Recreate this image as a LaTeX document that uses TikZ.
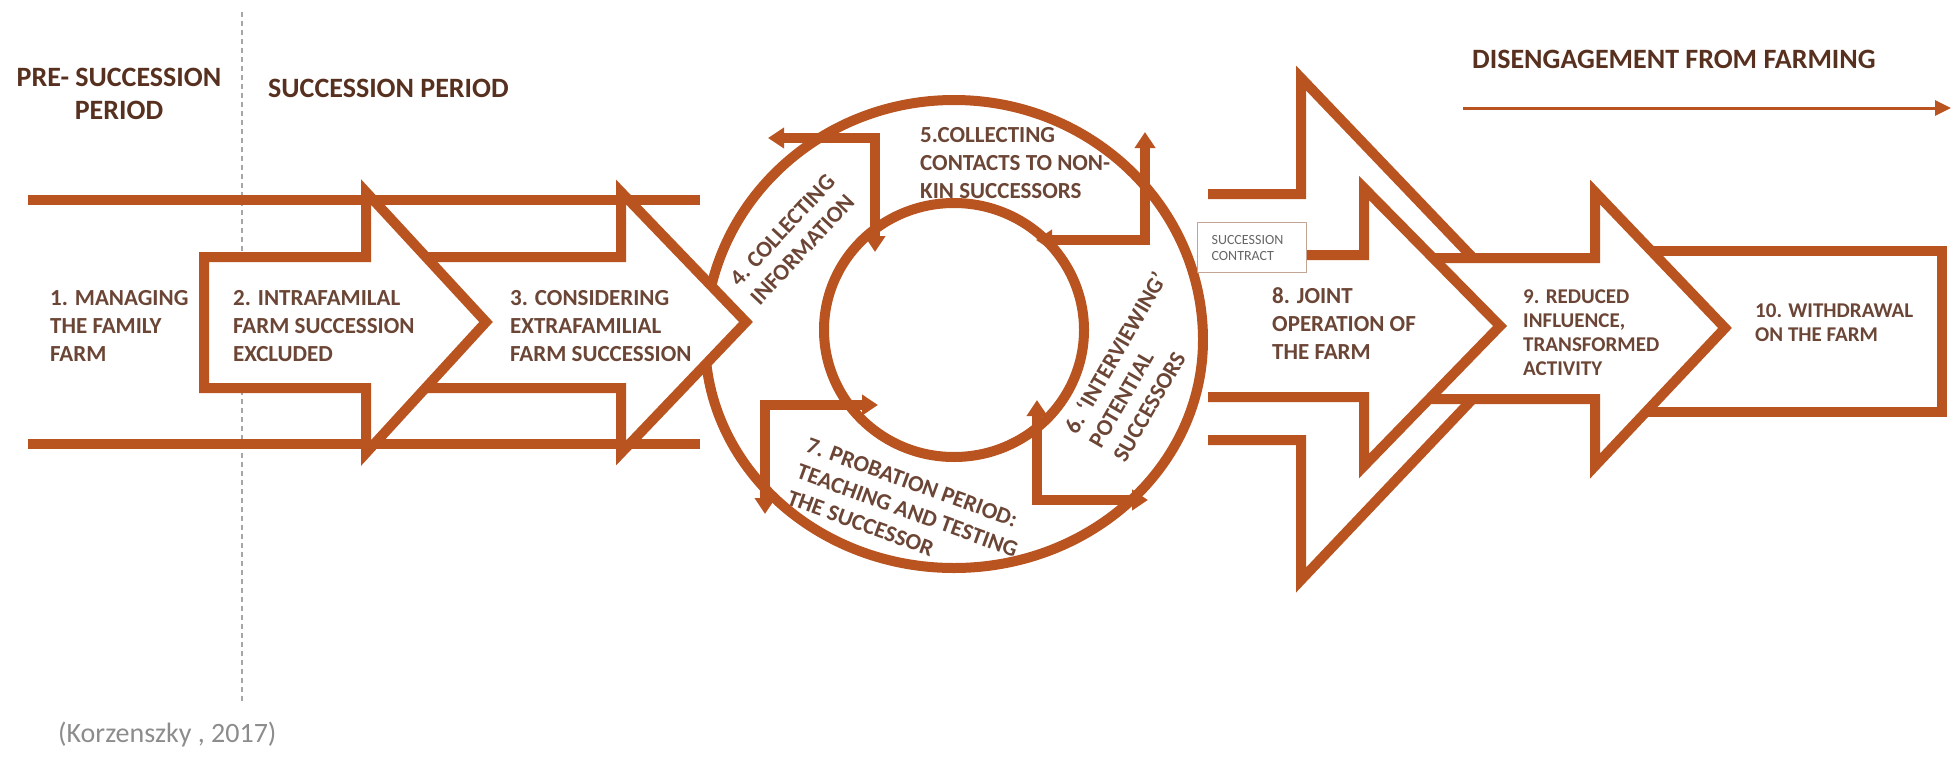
\documentclass[tikz,border=0pt]{standalone}
\usepackage{fontspec}
\setmainfont{Carlito}
\usepackage{tikz}
\usetikzlibrary{arrows.meta}
\definecolor{rust}{HTML}{B9531F}
\definecolor{labeltext}{HTML}{6B4535}
\definecolor{headtext}{HTML}{57301F}
\definecolor{citegray}{HTML}{8C8C8C}
\definecolor{boxline}{HTML}{C2A595}

\begin{document}
\begin{tikzpicture}[x=1pt, y=-1pt, font=\bfseries,
  rail/.style={draw=rust, line width=10pt},
  band/.style={draw=rust, line width=10pt, line join=miter, fill=white},
  barbs/.style={rail, {Triangle[length=16pt,width=20pt]}-{Triangle[length=16pt,width=20pt]}},
  stage/.style={text=labeltext, align=left, inner sep=0pt, anchor=north west, font=\bfseries\fontsize{23pt}{28pt}\selectfont},
  stagesmall/.style={stage, font=\bfseries\fontsize{21pt}{24pt}\selectfont},
  period/.style={text=headtext, inner sep=0pt, font=\bfseries\fontsize{28pt}{33pt}\selectfont}]

\useasboundingbox (0,0) rectangle (1953,760);

% period border
\coordinate (divtop) at (242,12);
\coordinate (divbot) at (242,702);
\draw[gray!70, dash pattern=on 5pt off 4pt, line width=1.4pt] (divtop) -- (divbot);

% rails in front of the cycle
\draw[rail] (28,200) -- (700,200);
\draw[rail] (28,444) -- (700,444);

% the cycle
\draw[rail] (705,340) arc[start angle=180, end angle=0, x radius=249pt, y radius=240pt]
  arc[start angle=0, end angle=-180, x radius=249pt, y radius=228pt] -- cycle;
\draw[rail] (954,330) ellipse [x radius=130pt, y radius=127pt];
\draw[barbs] (768,138) -- (875,138) -- (875,252);
\draw[barbs] (1145,132) -- (1145,240) -- (1036,240);
\draw[barbs] (1037,400) -- (1037,500) -- (1148,500);
\draw[barbs] (878,405) -- (765,405) -- (765,514);

\node[stage, rotate=47] (collect) at (728,277) {4. COLLECTING\\INFORMATION};
\node[stage] (contacts) at (920,127) {5.COLLECTING\\CONTACTS TO NON-\\KIN SUCCESSORS};
\node[stage, rotate=60] (interview) at (1062,427) {6. ‘INTERVIEWING’\\POTENTIAL\\SUCCESSORS};
\node[stage, rotate=-20] (probation) at (810,437) {7. PROBATION PERIOD:\\TEACHING AND TESTING\\THE SUCCESSOR};

% left arrows
\draw[band] (400,257) -- (621,257) -- (621,192) -- (746,322) -- (621,453) -- (621,388) -- (400,388);
\draw[band] (204,257) -- (366,257) -- (366,192) -- (486,322) -- (366,453) -- (366,388) -- (204,388) -- cycle;

% right arrows
\draw[band] (1208,194) -- (1301,194) -- (1301,78) -- (1540,328) -- (1301,580) -- (1301,440) -- (1208,440);
\draw[band] (1620,251) -- (1942,251) -- (1942,412) -- (1620,412);
\draw[band] (1400,258) -- (1595,258) -- (1595,192) -- (1725,328) -- (1595,466) -- (1595,399) -- (1400,399);
\draw[band] (1208,255) -- (1364,255) -- (1364,188) -- (1500,326) -- (1364,466) -- (1364,397) -- (1208,397);

\node[draw=boxline, line width=1.2pt, fill=white, anchor=north west, text width=81pt, inner xsep=14pt, minimum height=50pt, align=left, text=black!60, font=\fontsize{14pt}{16pt}\selectfont] (contract) at (1197,222) {SUCCESSION\\CONTRACT};

% stage labels
\node[stage] (managing) at (50,290) {1. MANAGING\\THE FAMILY\\FARM};
\node[stage] (intra) at (233,290) {2. INTRAFAMILAL\\FARM SUCCESSION\\EXCLUDED};
\node[stage] (extra) at (510,290) {3. CONSIDERING\\EXTRAFAMILIAL\\FARM SUCCESSION};
\node[stage] (joint) at (1272,287) {8. JOINT\\OPERATION OF\\THE FARM};
\node[stagesmall] (reduced) at (1523,290) {9. REDUCED\\INFLUENCE,\\TRANSFORMED\\ACTIVITY};
\node[stagesmall] (withdraw) at (1755,304) {10. WITHDRAWAL\\ON THE FARM};

% periods
\node[period, align=center, anchor=north] (presucc) at (119,68) {PRE- SUCCESSION\\PERIOD};
\node[period, anchor=north west] (succ) at (268,79) {SUCCESSION PERIOD};
\node[period, anchor=north west] (diseng) at (1472,50) {DISENGAGEMENT FROM FARMING};
\coordinate (disgo) at (1463,108);
\coordinate (disend) at (1951,108);
\draw[rust, line width=3pt, -{Triangle[length=16pt,width=15pt]}] (disgo) -- (disend);

\node[anchor=base west, inner sep=0pt, text=citegray, font=\fontsize{28pt}{32pt}\selectfont] (source) at (58,742) {(Korzenszky , 2017)};

\end{tikzpicture}
\end{document}
